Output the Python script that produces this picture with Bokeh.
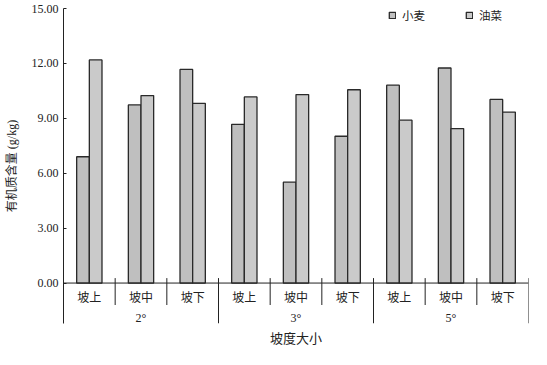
from bokeh.plotting import figure
from bokeh.models import (ColumnDataSource, FixedTicker, NumeralTickFormatter, Range1d,
                          LinearAxis, Legend, LegendItem)
from bokeh.transform import dodge
from bokeh.core.properties import value
from bokeh.embed import file_html
from bokeh.resources import INLINE

# ---- data ----
slopes = ["2°", "3°", "5°"]
positions = ["坡上", "坡中", "坡下"]
wheat = [6.90, 9.73, 11.67, 8.67, 5.51, 8.02, 10.81, 11.75, 10.03]   # 小麦
rape = [12.19, 10.24, 9.82, 10.17, 10.30, 10.56, 8.90, 8.44, 9.34]   # 油菜
y_ticks = [0, 3, 6, 9, 12, 15]

n = len(wheat)
cat_labels = [pos for s in slopes for pos in positions]
xs = [i + 0.5 for i in range(n)]
src = ColumnDataSource(dict(x=xs, wheat=wheat, rape=rape, lab=cat_labels))

SERIF = "'Liberation Serif', 'Noto Sans CJK SC'"
CJK = "'Noto Sans CJK SC'"
YMIN = -2.21

p = figure(width=531, height=349, output_backend="svg", toolbar_location=None,
           x_range=Range1d(0, n), y_range=Range1d(YMIN, 15),
           x_axis_location=None, y_axis_location=None,
           min_border_left=63, min_border_right=3, min_border_top=8, min_border_bottom=22)
p.outline_line_color = None
p.xgrid.visible = False
p.ygrid.visible = False
p.background_fill_color = "white"
p.border_fill_color = "white"

# y axis
ya = LinearAxis(ticker=FixedTicker(ticks=y_ticks), formatter=NumeralTickFormatter(format="0.00"))
ya.major_tick_in = 3
ya.major_tick_out = 0
ya.minor_tick_line_color = None
ya.axis_line_color = "#222222"
ya.major_tick_line_color = "#222222"
ya.major_label_text_font = SERIF
ya.major_label_text_font_size = "12px"
ya.major_label_text_color = "#222222"
ya.axis_label = "有机质含量 (g/kg)"
ya.axis_label_text_font = SERIF
ya.axis_label_text_font_size = "12px"
ya.axis_label_text_font_style = "normal"
ya.axis_label_text_color = "#222222"
ya.axis_label_standoff = 10
p.add_layout(ya, "left")

# x axis (only for the title)
xa = LinearAxis(ticker=FixedTicker(ticks=[]))
xa.axis_line_color = None
xa.major_tick_line_color = None
xa.minor_tick_line_color = None
xa.major_tick_out = 0
xa.major_label_standoff = 0
xa.major_label_text_font_size = "0px"
xa.axis_label = "坡度大小"
xa.axis_label_text_font = CJK
xa.axis_label_text_font_size = "13px"
xa.axis_label_text_font_style = "normal"
xa.axis_label_text_color = "#222222"
xa.axis_label_standoff = 4
p.add_layout(xa, "below")

bw = 0.245
r1 = p.vbar(x=dodge("x", -bw / 2, range=p.x_range), top="wheat", width=bw, source=src,
            fill_color="#bfbfbf", line_color="#2a2a2a", line_width=1.3)
r2 = p.vbar(x=dodge("x", bw / 2, range=p.x_range), top="rape", width=bw, source=src,
            fill_color="#cacaca", line_color="#2a2a2a", line_width=1.3)

# x baseline and category separators
p.segment(x0=[0], y0=[0], x1=[n], y1=[0], line_color="#222222", line_width=1)
short_b = [b for b in range(1, n + 1) if b % 3 != 0]
long_b = [b for b in range(1, n + 1) if b % 3 == 0]
p.segment(x0=short_b, y0=[0.27] * len(short_b), x1=short_b, y1=[-1.2] * len(short_b),
          line_color="#222222", line_width=1)
p.segment(x0=long_b, y0=[0.27] * len(long_b), x1=long_b, y1=[YMIN] * len(long_b),
          line_color="#222222", line_width=1)

# category labels
p.text(x="x", y=-0.76, text="lab", source=src, text_font=value(CJK), text_font_size="12px",
       text_align="center", text_baseline="middle", text_color="#222222")
# slope labels
p.text(x=[1.5, 4.5, 7.5], y=[-1.92] * 3, text=slopes, text_font=value(SERIF),
       text_font_size="12px", text_align="center", text_baseline="middle", text_color="#222222")

legend = Legend(items=[LegendItem(label="小麦", renderers=[r1]),
                       LegendItem(label="油菜", renderers=[r2])],
                orientation="horizontal", location=(325, 300),
                border_line_color=None, background_fill_alpha=0,
                glyph_width=8, glyph_height=8, label_standoff=6, spacing=40,
                padding=0, margin=0, label_text_font=CJK, label_text_font_size="11.5px",
                label_text_color="#222222", label_height=10)
p.add_layout(legend)

open("out.html", "w").write(file_html(p, INLINE))
